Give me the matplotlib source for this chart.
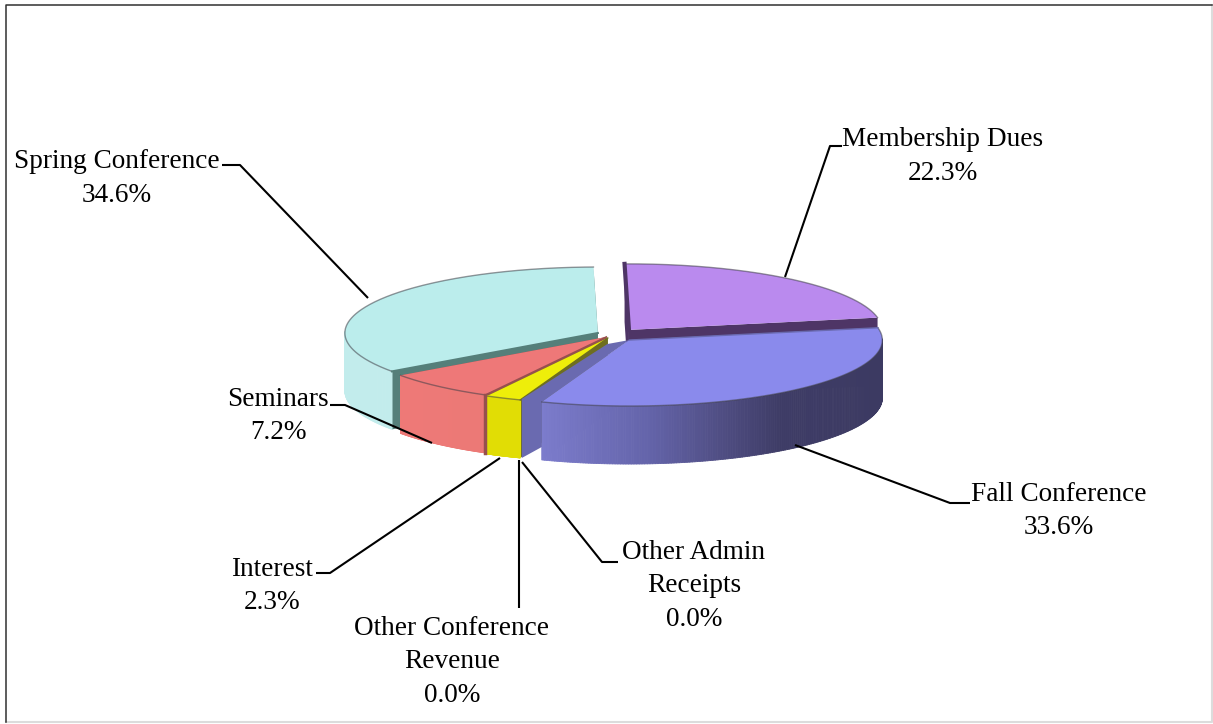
import numpy as np
import matplotlib
matplotlib.use("Agg")
import matplotlib.pyplot as plt
from matplotlib.patches import Polygon
from matplotlib.collections import PolyCollection

categories = ["Membership Dues", "Fall Conference", "Other Admin\nReceipts",
              "Other Conference\nRevenue", "Interest", "Seminars", "Spring Conference"]
values = [22.3, 33.6, 0.0, 0.0, 2.3, 7.2, 34.6]

# styling (per category)
explode = [0.10, 0.10, 0, 0, 0.05, 0.04, 0.067]
top_colors = ["#BA8AEE", "#8A8AEC", "#000000", "#000000", "#EEEE0A", "#EE7878", "#BBEDEC"]
cut_colors = ["#4E3566", "#6A6AB0", "#000000", "#000000", "#6E6E20", "#96504E", "#557F7A"]
radial_lw = [3.0, 1.0, 0, 0, 1.0, 1.2, 1.5]
side_stops = [
    [(0, "#4E3566"), (1, "#4E3566")],
    [(0, "#3C3A62"), (0.2, "#3E3C66"), (0.32, "#504E84"), (0.46, "#6464AA"), (0.67, "#7C7CCC"), (1, "#8080D2")],
    [(0, "#000000"), (1, "#000000")],
    [(0, "#000000"), (1, "#000000")],
    [(0, "#DEDA02"), (1, "#E2DE06")],
    [(0, "#DE7470"), (1, "#F07A78")],
    [(0, "#BEE8E8"), (1, "#C2ECEC")],
]
draw_order = [0, 6, 5, 4, 1]

label_xy = [(943, 156.5), (1059, 511), (694, 586), (452, 662), (272, 586), (278, 416), (117, 178.5)]
leaders = [
    [(842, 146), (830, 146), (785, 277)],
    [(970, 503), (950, 503), (795, 445)],
    [(618, 562), (602, 562), (522, 462)],
    [(519, 608), (519, 460)],
    [(316, 573), (330, 573), (500, 458)],
    [(330, 405), (345, 405), (432, 443)],
    [(222, 165), (240, 165), (368, 298)],
]

W, H = 1213, 724
cx, cy, rx, ry, depth = 613, 335, 253, 66, 58
start_angle = -1.0

plt.rcParams["font.family"] = ["Liberation Serif", "DejaVu Serif"]
fig = plt.figure(figsize=(W / 100, H / 100), dpi=100, facecolor="white")
ax = fig.add_axes([0, 0, 1, 1])
ax.set_xlim(0, W)
ax.set_ylim(H, 0)
ax.axis("off")

edges = start_angle + np.concatenate([[0], np.cumsum(values)]) * 3.6


def hex2rgb(c):
    return np.array(matplotlib.colors.to_rgb(c))


def stop_color(stops, t):
    xs = [s[0] for s in stops]
    cols = np.array([hex2rgb(s[1]) for s in stops])
    return [np.interp(t, xs, cols[:, i]) for i in range(3)]


def rim(center, deg):
    r = np.radians(deg)
    return np.column_stack([center[0] + rx * np.sin(r), center[1] - ry * np.cos(r)])


for i in draw_order:
    a0, a1 = edges[i], edges[i + 1]
    mid = np.radians((a0 + a1) / 2)
    c = (cx + explode[i] * rx * np.sin(mid), cy - explode[i] * ry * np.cos(mid))
    th = np.linspace(a0, a1, 200)
    arc = rim(c, th)
    z = 10 + draw_order.index(i)
    # radial cut faces
    for ang in (a0, a1):
        p = rim(c, [ang])[0]
        ax.add_patch(Polygon([c, p, (p[0], p[1] + depth), (c[0], c[1] + depth)],
                             closed=True, fc=cut_colors[i], ec="none", zorder=z))
    # side wall (only the front half is visible), shaded across x
    quads, cols = [], []
    for k in range(len(th) - 1):
        if np.cos(np.radians(th[k])) < 0.02:
            p, q = arc[k], arc[k + 1]
            quads.append([p, q, (q[0], q[1] + depth), (p[0], p[1] + depth)])
            cols.append(stop_color(side_stops[i], (rx - (p[0] - c[0])) / (2 * rx)))
    if quads:
        ax.add_collection(PolyCollection(quads, facecolors=cols, edgecolors=cols,
                                         linewidths=0.6, zorder=z))
    # extra lit chamfer seen on the cut of the exploded Fall Conference slice
    if categories[i].startswith("Fall"):
        p = rim(c, [a1])[0]
        ax.add_patch(Polygon([c, p, (p[0], p[1] + 45), (p[0] - 20, p[1] + 56),
                              (p[0] - 20, p[1] - 3), (c[0] - 22, c[1] + 4)],
                             closed=True, fc=cut_colors[i], ec="none", zorder=z))
    # dark seam at the right end of the Seminars wall
    if categories[i] == "Seminars":
        p = rim(c, [a0])[0]
        ax.plot([p[0], p[0]], [p[1], p[1] + depth], color=cut_colors[i], lw=2.5, zorder=z + 5)
    # top face
    ax.add_patch(Polygon(np.vstack([[c], arc]), closed=True, fc=top_colors[i],
                         ec="none", zorder=z + 0.1))
    ax.plot(arc[:, 0], arc[:, 1], color="#404048", lw=1.0, alpha=0.55, zorder=z + 0.2)
    ax.plot([c[0], arc[0, 0]], [c[1], arc[0, 1]], color=cut_colors[i], lw=radial_lw[i], zorder=z + 0.2)

for pts in leaders:
    xs, ys = zip(*pts)
    ax.plot(xs, ys, color="black", lw=1.5, zorder=30, solid_capstyle="butt")

for name, v, (x, y) in zip(categories, values, label_xy):
    ax.text(x, y, f"{name}\n{v:.1f}%", ha="center", va="center", fontsize=19.6,
            color="black", linespacing=1.44, zorder=31)

# chart frame
ax.plot([6, 1212, 1212], [722, 722, 5], color="#DCDCDC", lw=1.5, zorder=39, clip_on=False)
ax.plot([6, 6, 1212], [722, 5, 5], color="#303030", lw=1.1, zorder=40, clip_on=False)

fig.savefig("out.png", dpi=100, facecolor="white")
